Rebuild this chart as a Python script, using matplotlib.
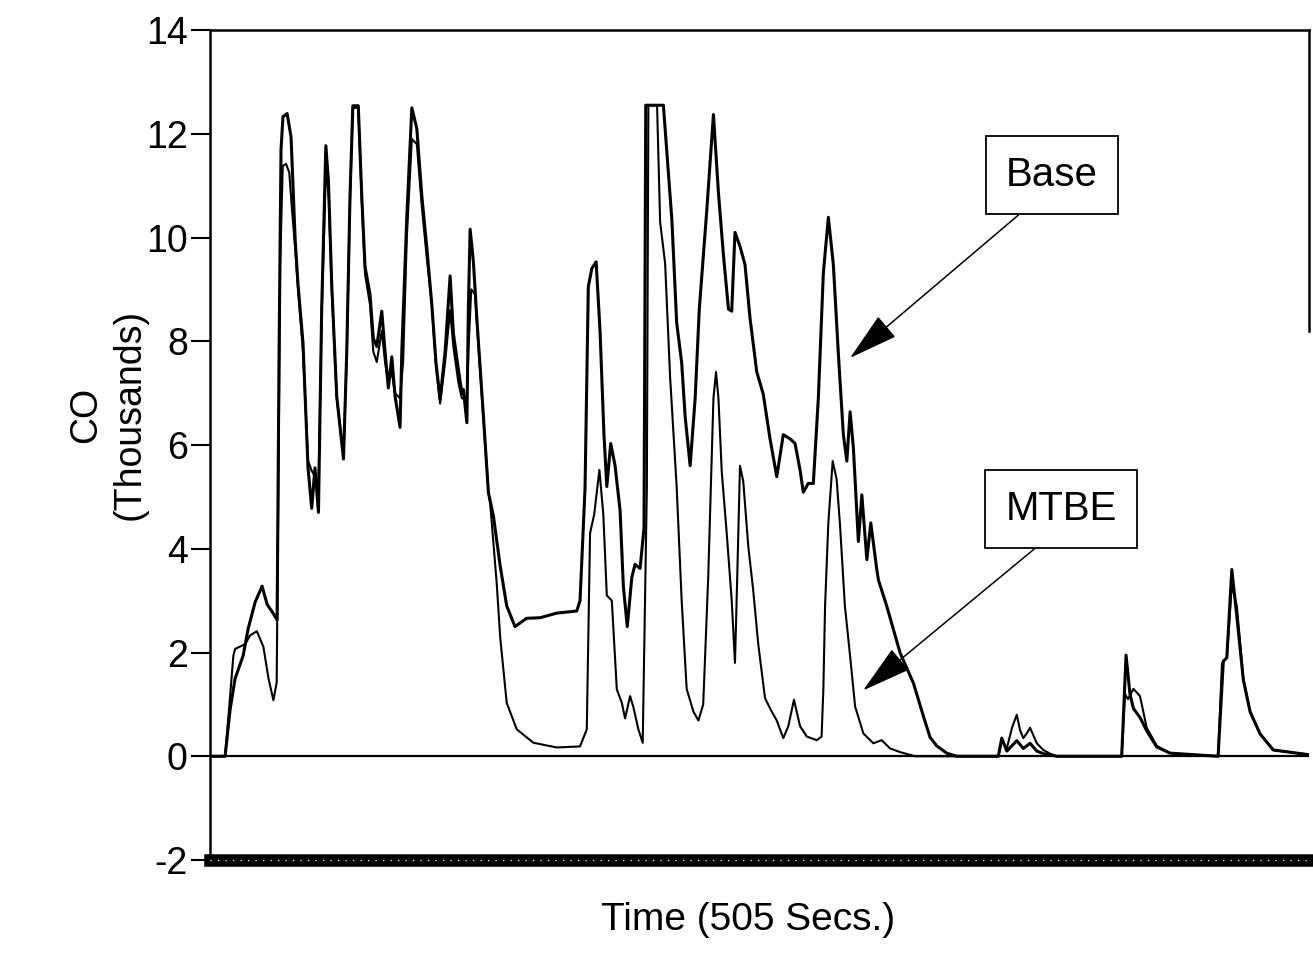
import matplotlib
matplotlib.use("Agg")
import matplotlib.pyplot as plt

plt.rcParams['font.family'] = ['Liberation Sans', 'DejaVu Sans']
plt.rcParams['axes.unicode_minus'] = False

# time in seconds, CO in thousands
base_t = [0, 6.9, 9.2, 11.5, 15.2, 17.5, 20.7, 23.9, 26.2, 28.9, 30.8, 31.7, 32.6,
          33.5, 35.4, 37.2, 39.1, 40.4, 42.7, 45.0, 46.7, 48.2, 49.8, 51.3, 53.2,
          54.4, 55.9, 58.2, 61.3, 62.8, 64.3, 65.6, 68.1, 69.7, 71.2, 73.5, 75.0,
          76.6, 78.9, 80.4, 81.9, 83.5, 85.0, 87.3, 88.1, 90.4, 92.7, 95.0, 97.3,
          99.6, 101.9, 103.8, 105.7, 108.0, 110.3, 111.8, 114.1, 115.7, 116.4,
          118.0, 118.7, 119.5, 121.0, 122.5, 125.6, 127.9, 130.2, 133.3, 136.3,
          140.1, 145.5, 151.6, 159.3, 168.5, 170.0, 172.3, 173.8, 175.4, 177.4,
          179.2, 181.0, 182.3, 184.1, 186.1, 188.4, 189.9, 191.7, 193.8, 195.3,
          197.6, 199.4, 200.2, 208.3, 209.9, 212.2, 214.4, 216.7, 218.3, 220.6,
          222.9, 224.8, 228.2, 231.3, 233.6, 235.9, 238.2, 239.7, 241.2, 243.5,
          245.8, 248.1, 251.2, 254.2, 257.3, 260.4, 263.4, 266.5, 268.8, 271.1,
          272.6, 274.9, 277.2, 279.5, 281.8, 284.1, 286.4, 288.7, 291.0, 292.6,
          294.1, 295.6, 297.9, 299.5, 301.8, 303.6, 306.3, 307.1, 310.9, 317.1,
          323.2, 327.8, 330.8, 333.9, 338.5, 343.1, 362.2, 363.8, 366.1, 370.7,
          373.7, 376.8, 379.9, 382.9, 389.1, 418.9, 420.9, 422.7, 424.3, 427.3,
          430.4, 435.0, 441.1, 463.2, 465.6, 467.2, 469.5, 471.8, 474.8, 477.9,
          482.5, 488.6, 499.4, 505]
base_co = [0, 0, 0.9, 1.5, 1.94, 2.46, 2.97, 3.28, 2.93, 2.76, 2.63, 7.8, 11.7,
           12.33, 12.39, 11.94, 9.96, 9.1, 7.97, 5.56, 4.78, 5.56, 4.7, 8.66, 11.77,
           11.08, 9.1, 6.94, 5.73, 7.8, 10.8, 12.54, 12.54, 10.8, 9.44, 8.9, 8.06,
           7.9, 8.58, 7.8, 7.1, 7.7, 6.94, 6.34, 7.8, 10.4, 12.5, 12.1, 10.8,
           9.8, 8.7, 7.6, 6.88, 7.8, 9.26, 8.15, 7.46, 7.0, 7.07,
           6.43, 8.66, 10.16, 9.53, 8.49, 6.56, 5.08, 4.63, 3.67, 2.9,
           2.5, 2.66, 2.67, 2.76, 2.8, 3.0, 5.17, 9.05, 9.4, 9.53,
           8.19, 6.2, 5.2, 6.03, 5.6, 4.74, 3.28, 2.5, 3.45, 3.7,
           3.62, 4.4, 12.55, 12.55, 11.64, 10.34, 8.36, 7.59, 6.55, 5.6,
           6.9, 8.62, 10.5, 12.37, 10.86, 9.66, 8.62, 8.58, 10.1, 9.83,
           9.48, 8.45, 7.41, 6.98, 6.12, 5.39, 6.2, 6.12, 6.03, 5.52,
           5.09, 5.26, 5.26, 6.9, 9.31, 10.39, 9.48, 7.76, 6.2, 5.69,
           6.64, 5.95, 4.14, 5.04, 3.79, 4.5, 3.62, 3.4, 2.9, 1.99,
           1.41, 0.77, 0.37, 0.2, 0.06, 0, 0, 0.35, 0.1, 0.3,
           0.15, 0.25, 0.1, 0.05, 0, 0, 1.95, 1.2, 0.92, 0.75,
           0.49, 0.18, 0.06, 0, 1.83, 1.9, 3.6, 2.7, 1.47, 0.86,
           0.43, 0.12, 0.06, 0.03]

mtbe_t = [0, 6.9, 8.7, 10.7, 11.5, 16.1, 18.4, 21.5, 24.5, 26.8, 29.1, 30.6, 31.4,
          32.2, 33.4, 34.9, 36.4, 37.7, 39.1, 40.4, 42.7, 45.0, 46.7, 48.2, 49.8,
          51.3, 53.2, 54.4, 55.9, 58.2, 61.3, 62.8, 64.3, 65.6, 68.1, 69.7, 71.2,
          73.5, 75.0, 76.6, 78.9, 80.4, 81.9, 83.5, 85.0, 87.3, 88.7, 90.4, 92.7,
          95.0, 97.3, 99.6, 101.9, 103.8, 105.7, 108.0, 110.3, 111.8, 114.1, 115.7,
          118.0, 118.7, 120.0, 121.8, 123.3, 125.6, 127.9, 128.7, 131.7, 133.3,
          136.3, 140.9, 148.6, 159.3, 170.0, 173.1, 174.6, 176.5, 178.9, 180.7,
          182.3, 184.6, 186.9, 189.2, 190.7, 193.0, 194.5, 196.8, 198.8, 200.7,
          201.4, 205.4, 206.8, 209.1, 211.4, 214.4, 216.7, 219.0, 222.1, 224.4,
          226.6, 228.9, 231.3, 232.5, 233.6, 235.1, 237.4, 239.7, 241.2, 242.2,
          243.5, 245.0, 247.3, 249.6, 251.9, 255.0, 258.1, 260.4, 263.4, 265.7,
          268.3, 271.1, 274.2, 278.8, 281.0, 281.8, 282.6, 284.1, 286.1, 287.9,
          289.4, 291.7, 294.1, 296.4, 300.2, 304.8, 308.6, 312.5, 317.1, 324.0,
          362.2, 363.8, 366.1, 368.5, 370.7, 372.2, 373.7, 375.4, 376.8, 379.9,
          382.9, 386.0, 389.1, 418.9, 420.4, 421.8, 424.3, 427.3, 430.4, 435.0,
          441.1, 463.2, 465.0, 467.2, 469.5, 471.8, 474.8, 477.9, 482.5, 488.6,
          499.4, 505]
mtbe_co = [0, 0, 0.9, 1.94, 2.07, 2.16, 2.33, 2.41, 2.11, 1.51, 1.08, 1.42, 5.2,
           9.5, 11.38, 11.42, 11.25, 10.5, 9.8, 9.0, 7.8, 5.7, 5.5, 5.4, 5.2,
           8.5, 11.3, 10.9, 9.0, 6.9, 5.8, 7.7, 10.7, 12.5, 12.5, 10.7, 9.3,
           8.7, 7.8, 7.6, 8.2, 7.6, 7.2, 7.4, 7.0, 6.9, 7.6, 10.0, 11.9,
           11.8, 10.6, 9.6, 8.7, 7.5, 6.8, 7.6, 8.6, 7.9, 7.2, 6.9,
           6.9, 7.8, 9.0, 8.9, 7.9, 6.5, 5.1, 4.88, 3.34, 2.3,
           1.03, 0.52, 0.26, 0.17, 0.19, 0.52, 4.3, 4.66, 5.52, 4.66,
           3.1, 3.0, 1.29, 1.03, 0.73, 1.16, 0.95, 0.52, 0.26, 5.17,
           12.55, 12.55, 10.3, 9.5, 7.3, 5.2, 3.0, 1.3, 0.86, 0.69,
           1.0, 3.45, 6.9, 7.41, 6.9, 5.5, 4.3, 3.0, 1.8, 3.4,
           5.6, 5.3, 4.05, 3.19, 2.16, 1.12, 0.86, 0.69, 0.35, 0.58,
           1.09, 0.58, 0.38, 0.31, 0.38, 1.28, 2.9, 4.5, 5.69, 5.34,
           4.5, 2.9, 1.93, 0.96, 0.44, 0.25, 0.31, 0.15, 0.08, 0,
           0, 0.3, 0.15, 0.55, 0.8, 0.5, 0.35, 0.45, 0.55, 0.25,
           0.12, 0.05, 0, 0, 1.2, 1.1, 1.3, 1.16, 0.55, 0.2,
           0.06, 0, 1.8, 1.9, 3.3, 2.9, 1.5, 0.86, 0.43, 0.12,
           0.06, 0.03]

yticks = [-2, 0, 2, 4, 6, 8, 10, 12, 14]

fig = plt.figure(figsize=(13.13, 9.56), dpi=100)
ax = fig.add_axes([0.16, 0.1004, 0.837, 0.8682])

ax.plot(mtbe_t, mtbe_co, color='black', lw=1.5, solid_joinstyle='round')
ax.plot(base_t, base_co, color='black', lw=2.2, solid_joinstyle='round')
ax.axhline(0, color='black', lw=1.6)

ax.set_xlim(0, 505)
ax.set_ylim(-2, 14)
ax.set_xticks([])
ax.set_yticks(yticks)
ax.tick_params(axis='y', direction='out', length=14, width=1.5, pad=2,
               labelsize=27)

for s in ['left', 'top', 'right']:
    ax.spines[s].set_linewidth(1.8)
ax.spines['right'].set_bounds(8.2, 14)
ax.spines['bottom'].set_linewidth(9)
ax.axhline(-2, color='white', lw=0.9, ls=(0, (1, 5)), clip_on=False, zorder=5)

box = dict(boxstyle='square,pad=0.5', fc='white', ec='black', lw=1.3)
ax.annotate('Base', xy=(294.1, 7.68), xytext=(386.9, 11.2), fontsize=29,
            ha='center', va='center', bbox=box,
            arrowprops=dict(arrowstyle='-|>,head_length=1.1,head_width=0.3',
                            color='black', lw=1.1, relpos=(0.4, 0),
                            shrinkA=0, shrinkB=0))
ax.annotate('MTBE', xy=(300.1, 1.27), xytext=(391.0, 4.77), fontsize=29,
            ha='center', va='center', bbox=box,
            arrowprops=dict(arrowstyle='-|>,head_length=1.1,head_width=0.3',
                            color='black', lw=1.1, relpos=(0.49, 0),
                            shrinkA=0, shrinkB=0))

fig.text(0.082, 0.566, 'CO\n(Thousands)', rotation=90, ha='center',
         va='center', fontsize=27, linespacing=1.25)
fig.text(0.5697, 0.0377, 'Time (505 Secs.)', ha='center', va='center',
         fontsize=28)

fig.savefig('out.png', dpi=100)
